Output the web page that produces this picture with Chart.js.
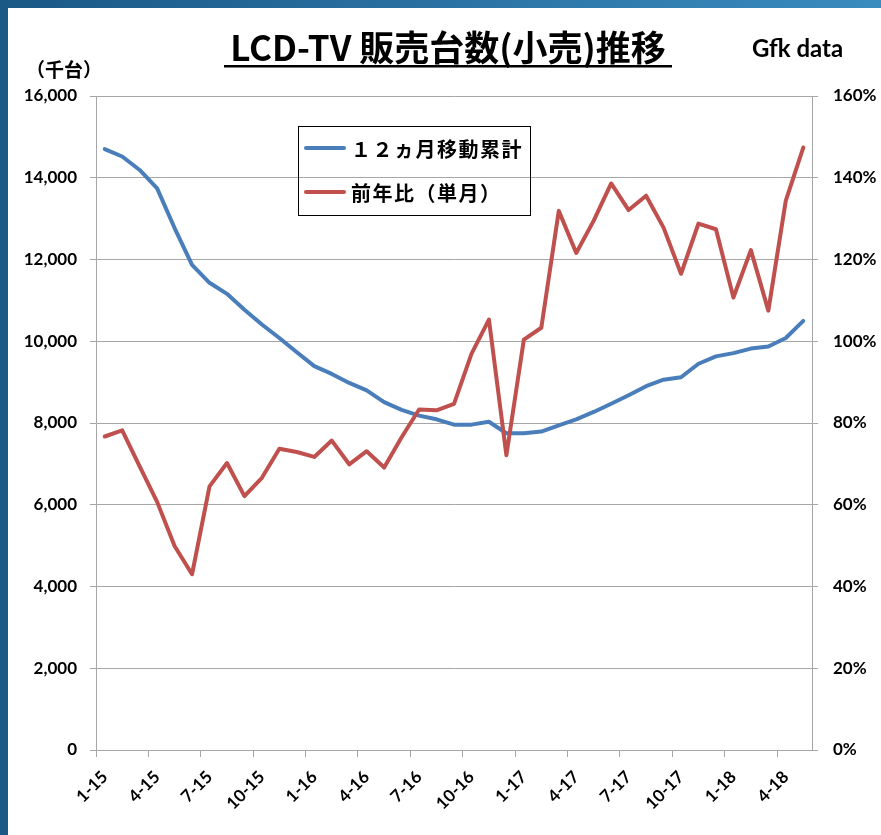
<!DOCTYPE html>
<html>
<head>
<meta charset="utf-8">
<script src="https://cdn.jsdelivr.net/npm/chart.js@4/dist/chart.umd.min.js"></script>
<style>
  body { margin: 0; background: #fff; }
  #wrap { position: relative; width: 881px; height: 835px; overflow: hidden; }
  #leftBand { position: absolute; left: 0; top: 0; width: 8px; height: 835px; background: #1a5886; }
  #topBand { position: absolute; left: 0; top: 0; width: 881px; height: 8px; background: linear-gradient(to right, #1a5886, #3a8bbf); }
  canvas { position: absolute; left: 0; top: 0; }
</style>
</head>
<body>
<div id="wrap">
  <canvas id="chart" width="881" height="835"></canvas>
  <div id="leftBand"></div>
  <div id="topBand"></div>
</div>
<script>
// 月（ラベル）
const months = [
  '1-15','2-15','3-15','4-15','5-15','6-15','7-15','8-15','9-15','10-15','11-15','12-15',
  '1-16','2-16','3-16','4-16','5-16','6-16','7-16','8-16','9-16','10-16','11-16','12-16',
  '1-17','2-17','3-17','4-17','5-17','6-17','7-17','8-17','9-17','10-17','11-17','12-17',
  '1-18','2-18','3-18','4-18','5-18'
];

// 12ヵ月移動累計（千台）
const movingTotal = [
  14700, 14520, 14190, 13740, 12770, 11870, 11430, 11160, 10770, 10410, 10080, 9730,
  9390, 9200, 8980, 8800, 8510, 8320, 8180, 8090, 7960, 7960, 8030, 7750,
  7750, 7790, 7940, 8090, 8270, 8470, 8680, 8900, 9060, 9120, 9450, 9630,
  9710, 9820, 9870, 10080, 10500
];

// 前年比（単月, %）
const yoy = [
  76.7, 78.2, 69.4, 60.7, 49.9, 43.0, 64.5, 70.2, 62.1, 66.6, 73.7, 72.9,
  71.7, 75.7, 69.9, 73.1, 69.1, 76.5, 83.3, 83.1, 84.7, 96.9, 105.3, 72.1,
  100.4, 103.3, 131.9, 121.6, 129.5, 138.6, 132.1, 135.6, 127.8, 116.5, 128.8, 127.4,
  110.7, 122.3, 107.5, 134.4, 147.4
];

const seriesNames = ['１２ヵ月移動累計', '前年比（単月）'];
const leftTicks = { min: 0, max: 16000, step: 2000 };
const rightTicks = { min: 0, max: 160, step: 20 };

const blue = '#4a7ebb';
const red = '#c0504d';
const gridGray = '#a6a6a6';
const tickFont = { family: 'Lato, "Noto Sans", sans-serif', size: 17, weight: 'bold' };
const cjk = '"Noto Sans CJK JP", "Noto Sans", sans-serif';

// タイトル・凡例など
const decorations = {
  id: 'decorations',
  afterDraw(chart) {
    const ctx = chart.ctx;
    ctx.save();
    ctx.fillStyle = '#000';

    ctx.font = 'bold 35px ' + cjk;
    ctx.textAlign = 'center';
    ctx.textBaseline = 'alphabetic';
    ctx.fillText('LCD-TV 販売台数(小売)推移', 448, 61, 448);
    ctx.fillRect(224, 65, 448, 2.5);

    ctx.textAlign = 'left';
    ctx.font = 'bold 24px Lato, sans-serif';
    ctx.fillText('Gfk data', 752, 57);

    ctx.font = 'bold 19px ' + cjk;
    ctx.textBaseline = 'middle';
    ctx.fillText('（千台）', 26, 70);

    // 凡例
    ctx.strokeStyle = '#000';
    ctx.lineWidth = 1;
    ctx.strokeRect(298.5, 126.5, 232, 89);
    const rows = [[blue, 148], [red, 192]];
    rows.forEach(([c, y], i) => {
      ctx.strokeStyle = c;
      ctx.lineWidth = 4;
      ctx.lineCap = 'round';
      ctx.beginPath();
      ctx.moveTo(306, y);
      ctx.lineTo(344, y);
      ctx.stroke();
      ctx.font = 'bold 20px ' + cjk;
      if ('letterSpacing' in ctx) ctx.letterSpacing = '1.5px';
      ctx.fillText(seriesNames[i], 351, y + 1);
    });
    ctx.restore();
  }
};

new Chart(document.getElementById('chart'), {
  type: 'line',
  data: {
    labels: months,
    datasets: [
      {
        label: seriesNames[0],
        data: movingTotal,
        yAxisID: 'y',
        borderColor: blue,
        borderWidth: 4,
        pointRadius: 0,
        tension: 0,
        borderJoinStyle: 'round',
        borderCapStyle: 'round',
        order: 2
      },
      {
        label: seriesNames[1],
        data: yoy,
        yAxisID: 'y1',
        borderColor: red,
        borderWidth: 4,
        pointRadius: 0,
        tension: 0,
        borderJoinStyle: 'round',
        borderCapStyle: 'round',
        order: 1
      }
    ]
  },
  options: {
    responsive: false,
    animation: false,
    layout: { padding: { top: 96, left: 0, right: 0, bottom: 0 } },
    plugins: { legend: { display: false }, tooltip: { enabled: false } },
    scales: {
      x: {
        offset: true,
        grid: {
          offset: true,
          drawOnChartArea: false,
          tickLength: 7,
          color: ctx => (ctx.index % 3 === 0 ? gridGray : 'rgba(0,0,0,0)')
        },
        border: { color: gridGray, width: 1 },
        ticks: {
          autoSkip: false,
          maxRotation: 45,
          minRotation: 45,
          padding: 10,
          color: '#000',
          font: tickFont,
          callback: (v, i) => (i % 3 === 0 ? months[i] : '')
        },
        afterFit: s => { s.height = 85; }
      },
      y: {
        position: 'left',
        min: leftTicks.min,
        max: leftTicks.max,
        ticks: {
          stepSize: leftTicks.step,
          padding: 13,
          color: '#000',
          font: tickFont,
          callback: v => v.toLocaleString('en-US')
        },
        grid: { color: gridGray, tickLength: 6 },
        border: { color: gridGray, width: 1 },
        afterFit: s => { s.width = 96; }
      },
      y1: {
        position: 'right',
        min: rightTicks.min,
        max: rightTicks.max,
        ticks: {
          stepSize: rightTicks.step,
          padding: 15,
          color: '#000',
          font: tickFont,
          callback: v => v + '%'
        },
        grid: { drawOnChartArea: false, color: gridGray, tickLength: 6 },
        border: { color: gridGray, width: 1 },
        afterFit: s => { s.width = 69; }
      }
    }
  },
  plugins: [decorations]
});
</script>
</body>
</html>
